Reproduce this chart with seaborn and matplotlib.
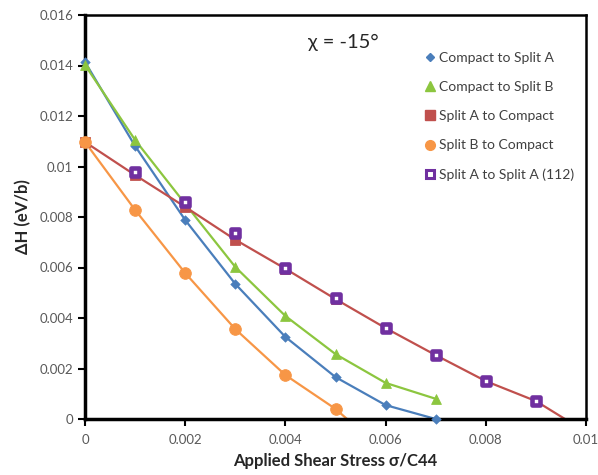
import numpy as np
import pandas as pd
import matplotlib
matplotlib.use("Agg")
import matplotlib.pyplot as plt
from matplotlib.lines import Line2D
import seaborn as sns

sns.set_theme(style="white")
plt.rcParams['font.family'] = ['Lato', 'DejaVu Sans']

# ---- data ----
x_ab = [0, 0.001, 0.002, 0.003, 0.004, 0.005, 0.006, 0.007]
y_ca = [0.01414, 0.01081, 0.00788, 0.00535, 0.00325, 0.00166, 0.00055, 0.0]      # Compact to Split A
y_cb = [0.01402, 0.01105, 0.00852, 0.00602, 0.00408, 0.00257, 0.00143, 0.0008]   # Compact to Split B

x_ac = [0, 0.001, 0.002, 0.003, 0.004, 0.005, 0.006, 0.007, 0.008, 0.009]
y_ac = [0.01097, 0.00966, 0.0084, 0.0071, 0.00595, 0.00475, 0.0036, 0.00253, 0.0015, 0.00071]  # Split A to Compact
x_ac_end = 0.00958

x_bc = [0, 0.001, 0.002, 0.003, 0.004, 0.005]
y_bc = [0.01097, 0.00828, 0.00578, 0.00356, 0.00174, 0.0004]   # Split B to Compact
x_bc_end = 0.00523

x_aa = [0.001, 0.002, 0.003, 0.004, 0.005, 0.006, 0.007, 0.008, 0.009]
y_aa = [0.00978, 0.0086, 0.00736, 0.006, 0.0048, 0.0036, 0.00253, 0.0015, 0.00073]  # Split A to Split A (112)

labels = ["Compact to Split A", "Compact to Split B", "Split A to Compact",
          "Split B to Compact", "Split A to Split A (112)"]
xticks = [0, 0.002, 0.004, 0.006, 0.008, 0.01]
xtick_labels = ["0", "0.002", "0.004", "0.006", "0.008", "0.01"]
yticks = [0, 0.002, 0.004, 0.006, 0.008, 0.01, 0.012, 0.014, 0.016]
ytick_labels = ["0", "0.002", "0.004", "0.006", "0.008", "0.01", "0.012", "0.014", "0.016"]

c_blue = "#4A7EBB"
c_green = "#8CC63F"
c_red = "#C0504D"
c_orange = "#F79646"
c_purple = "#7030A0"

fig = plt.figure(figsize=(5.98, 4.75), dpi=100)
ax = fig.add_axes([85/598, 1 - 419/475, (586-85)/598, (419-15)/475])

# lines
sns.lineplot(x=x_ab, y=y_ca, color=c_blue, lw=1.6, ax=ax)
sns.lineplot(x=x_ab, y=y_cb, color=c_green, lw=1.6, ax=ax)
sns.lineplot(x=x_ac + [x_ac_end], y=y_ac + [0.0], color=c_red, lw=1.6, ax=ax)
sns.lineplot(x=x_bc + [x_bc_end], y=y_bc + [0.0], color=c_orange, lw=1.6, ax=ax)

# markers
kw = dict(ax=ax, clip_on=False, zorder=5)
sns.scatterplot(x=x_ab, y=y_ca, marker="D", s=24, color=c_blue, edgecolor=c_blue, **kw)
sns.scatterplot(x=x_ab, y=y_cb, marker="^", s=50, color=c_green, edgecolor=c_green, **kw)
sns.scatterplot(x=x_ac, y=y_ac, marker="s", s=50, color=c_red, edgecolor=c_red, **kw)
sns.scatterplot(x=x_bc, y=y_bc, marker="o", s=70, color=c_orange, edgecolor=c_orange, **kw)
sns.scatterplot(x=x_aa, y=y_aa, marker="s", s=36, facecolor="white", edgecolor=c_purple,
                linewidth=3.3, **kw)

ax.set_xlim(0, 0.01)
ax.set_ylim(0, 0.016)
ax.set_xticks(xticks)
ax.set_xticklabels(xtick_labels)
ax.set_yticks(yticks)
ax.set_yticklabels(ytick_labels)
ax.tick_params(axis="both", direction="out", length=5, width=1.5, color="black",
               labelsize=9.5, labelcolor="#595959", bottom=True, left=True)
ax.tick_params(axis="x", pad=6)

for side in ["left", "bottom"]:
    ax.spines[side].set_linewidth(2.5)
    ax.spines[side].set_color("black")
for side in ["top", "right"]:
    ax.spines[side].set_linewidth(1.8)
    ax.spines[side].set_color("black")
    ax.spines[side].set_visible(True)

ax.set_xlabel("Applied Shear Stress σ/C44", fontsize=12, fontweight="bold", color="#262626", labelpad=5)
ax.set_ylabel("ΔH (eV/b)", fontsize=12, fontweight="bold", color="#262626", labelpad=6)

ax.text(0.00445, 0.0149, "χ = -15°", fontsize=14.5, color="#262626", ha="left", va="center")

handles = [
    Line2D([], [], ls="none", marker="D", ms=4.5, color=c_blue),
    Line2D([], [], ls="none", marker="^", ms=7, color=c_green),
    Line2D([], [], ls="none", marker="s", ms=6.5, color=c_red),
    Line2D([], [], ls="none", marker="o", ms=7, color=c_orange),
    Line2D([], [], ls="none", marker="s", ms=5.5, markerfacecolor="white",
           markeredgecolor=c_purple, markeredgewidth=2.2),
]
ax.legend(handles, labels, loc="upper left", bbox_to_anchor=(0.652, 0.94),
          frameon=False, fontsize=10, labelspacing=1.24, handlelength=0.8,
          handletextpad=0.3, labelcolor="#404040")

fig.savefig("out.png", dpi=100)
